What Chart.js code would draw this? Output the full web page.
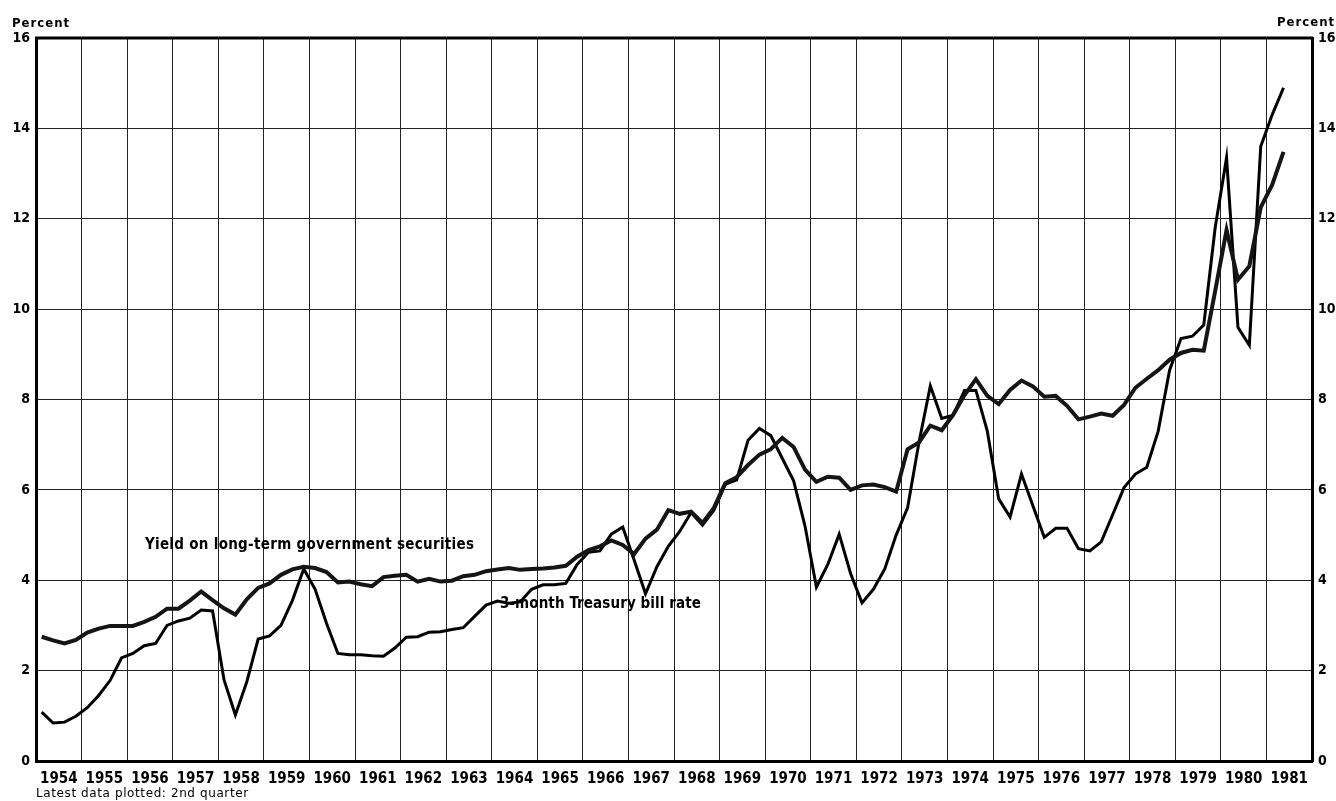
<!DOCTYPE html>
<html>
<head>
<meta charset="utf-8">
<script src="https://cdn.jsdelivr.net/npm/chart.js@4/dist/chart.umd.min.js"></script>
<style>
  html, body { margin: 0; padding: 0; background: #fff; }
  canvas { display: block; }
</style>
</head>
<body>
<canvas id="rates" width="1336" height="801"></canvas>
<script>
// quarterly averages, 1954 Q1 .. 1981 Q2
const startYear = 1954;
const yearLabels = [1954, 1955, 1956, 1957, 1958, 1959, 1960, 1961, 1962, 1963, 1964, 1965, 1966, 1967,
                    1968, 1969, 1970, 1971, 1972, 1973, 1974, 1975, 1976, 1977, 1978, 1979, 1980, 1981];
const yTicks = [0, 2, 4, 6, 8, 10, 12, 14, 16];

const yieldLT = [
    2.75, 2.67, 2.60, 2.68,   // 1954
    2.84, 2.93, 2.99, 2.99,
    2.99, 3.08, 3.19, 3.37,
    3.37, 3.55, 3.75, 3.56,
    3.38, 3.24, 3.58, 3.83,
    3.93, 4.12, 4.24, 4.30,   // 1959
    4.27, 4.18, 3.95, 3.97,
    3.91, 3.87, 4.07, 4.10,
    4.12, 3.97, 4.03, 3.97,
    3.99, 4.09, 4.12, 4.20,
    4.24, 4.27, 4.23, 4.25,   // 1964
    4.26, 4.28, 4.32, 4.52,
    4.67, 4.75, 4.88, 4.78,
    4.58, 4.92, 5.12, 5.55,
    5.47, 5.52, 5.27, 5.60,
    6.15, 6.28, 6.55, 6.78,   // 1969
    6.90, 7.15, 6.95, 6.45,
    6.18, 6.29, 6.27, 6.00,
    6.10, 6.12, 6.06, 5.96,
    6.90, 7.05, 7.42, 7.32,
    7.66, 8.10, 8.45, 8.08,   // 1974
    7.90, 8.21, 8.42, 8.29,
    8.06, 8.08, 7.86, 7.56,
    7.62, 7.69, 7.64, 7.88,
    8.26, 8.46, 8.65, 8.88,
    9.03, 9.10, 9.08, 10.40,  // 1979
    11.75, 10.65, 10.95, 12.25,
    12.75, 13.48
];

const tbill = [
    1.08, 0.84, 0.86, 0.99,   // 1954
    1.18, 1.45, 1.78, 2.28,
    2.38, 2.55, 2.60, 3.00,
    3.10, 3.16, 3.34, 3.32,
    1.80, 1.02, 1.75, 2.70,
    2.77, 3.00, 3.55, 4.25,   // 1959
    3.80, 3.05, 2.38, 2.35,
    2.35, 2.33, 2.32, 2.50,
    2.74, 2.75, 2.85, 2.86,
    2.91, 2.95, 3.20, 3.45,
    3.54, 3.49, 3.52, 3.80,   // 1964
    3.90, 3.90, 3.93, 4.35,
    4.62, 4.65, 5.02, 5.18,
    4.45, 3.70, 4.30, 4.75,
    5.08, 5.50, 5.22, 5.55,
    6.12, 6.22, 7.10, 7.36,   // 1969
    7.20, 6.70, 6.20, 5.20,
    3.85, 4.35, 5.02, 4.15,
    3.50, 3.80, 4.25, 5.00,
    5.60, 7.05, 8.30, 7.58,
    7.65, 8.20, 8.20, 7.30,   // 1974
    5.80, 5.40, 6.35, 5.65,
    4.95, 5.15, 5.15, 4.70,
    4.65, 4.85, 5.45, 6.05,
    6.35, 6.50, 7.30, 8.65,
    9.35, 9.40, 9.65, 11.80,  // 1979
    13.35, 9.60, 9.20, 13.60,
    14.30, 14.90
];

const labelFont = '"DejaVu Sans Condensed", "Liberation Sans Narrow", "DejaVu Sans", sans-serif';

// mid-quarter position on the year axis
const toPoints = arr => arr.map((v, i) => ({ x: startYear + (i + 0.5) / 4, y: v }));

const textPlugin = {
    id: 'textPlugin',
    afterDraw(chart) {
        const ctx = chart.ctx;
        const a = chart.chartArea;
        const xs = chart.scales.x, ys = chart.scales.y;
        ctx.save();
        // top frame line
        ctx.strokeStyle = '#000';
        ctx.lineWidth = 3;
        ctx.beginPath();
        ctx.moveTo(a.left - 1, a.top);
        ctx.lineTo(a.right + 1, a.top);
        ctx.stroke();

        ctx.fillStyle = '#000';
        ctx.textBaseline = 'alphabetic';
        ctx.font = 'bold 13px ' + labelFont;
        ctx.letterSpacing = '1px';
        ctx.textAlign = 'left';
        ctx.fillText('Percent', 12, 27);
        ctx.fillText('Percent', 1277, 26);

        ctx.letterSpacing = '0.6px';
        ctx.font = '12px "DejaVu Sans", sans-serif';
        ctx.fillText('Latest data plotted: 2nd quarter', a.left, 797);

        ctx.font = 'bold 15px ' + labelFont;
        ctx.letterSpacing = '0.3px';
        ctx.textBaseline = 'middle';
        ctx.fillText('Yield on long-term government securities', xs.getPixelForValue(1956.39), ys.getPixelForValue(4.78));
        ctx.letterSpacing = '0.1px';
        ctx.fillText('3-month Treasury bill rate', xs.getPixelForValue(1964.18), ys.getPixelForValue(3.47));
        ctx.restore();
    }
};

const tickFont = { family: labelFont, size: 14, weight: 'bold' };

new Chart(document.getElementById('rates').getContext('2d'), {
    type: 'line',
    data: {
        datasets: [
            { label: 'Yield on long-term government securities', data: toPoints(yieldLT), borderColor: '#151515', borderWidth: 4, pointRadius: 0, tension: 0, fill: false },
            { label: '3-month Treasury bill rate', data: toPoints(tbill), borderColor: '#000', borderWidth: 3, pointRadius: 0, tension: 0, fill: false }
        ]
    },
    options: {
        responsive: false,
        animation: false,
        layout: { padding: { top: 38, left: 0, right: 0, bottom: 0 } },
        plugins: { legend: { display: false }, tooltip: { enabled: false } },
        scales: {
            x: {
                type: 'linear',
                min: startYear,
                max: yearLabels[yearLabels.length - 1] + 1,
                afterBuildTicks: s => { s.ticks = yearLabels.concat([yearLabels[yearLabels.length - 1] + 1]).map(v => ({ value: v })); },
                afterFit: s => { s.height = 40; },
                grid: { color: '#222', lineWidth: 1, drawTicks: false },
                border: { color: '#000', width: 3 },
                ticks: {
                    autoSkip: false, maxRotation: 0, padding: 9, color: '#000',
                    font: { family: labelFont, size: 15, weight: 'bold' },
                    labelOffset: 22.8,
                    callback: v => yearLabels.includes(v) ? String(v) : ''
                }
            },
            y: {
                min: 0, max: 16,
                afterBuildTicks: s => { s.ticks = yTicks.map(v => ({ value: v })); },
                afterFit: s => { s.width = 36; },
                grid: { color: '#222', lineWidth: 1, drawTicks: false },
                border: { color: '#000', width: 3 },
                ticks: { padding: 6, color: '#000', font: tickFont }
            },
            y2: {
                position: 'right',
                min: 0, max: 16,
                afterBuildTicks: s => { s.ticks = yTicks.map(v => ({ value: v })); },
                afterFit: s => { s.width = 24; },
                grid: { drawOnChartArea: false, drawTicks: false },
                border: { color: '#000', width: 3 },
                ticks: { padding: 6, color: '#000', font: tickFont }
            }
        }
    },
    plugins: [textPlugin]
});
</script>
</body>
</html>
